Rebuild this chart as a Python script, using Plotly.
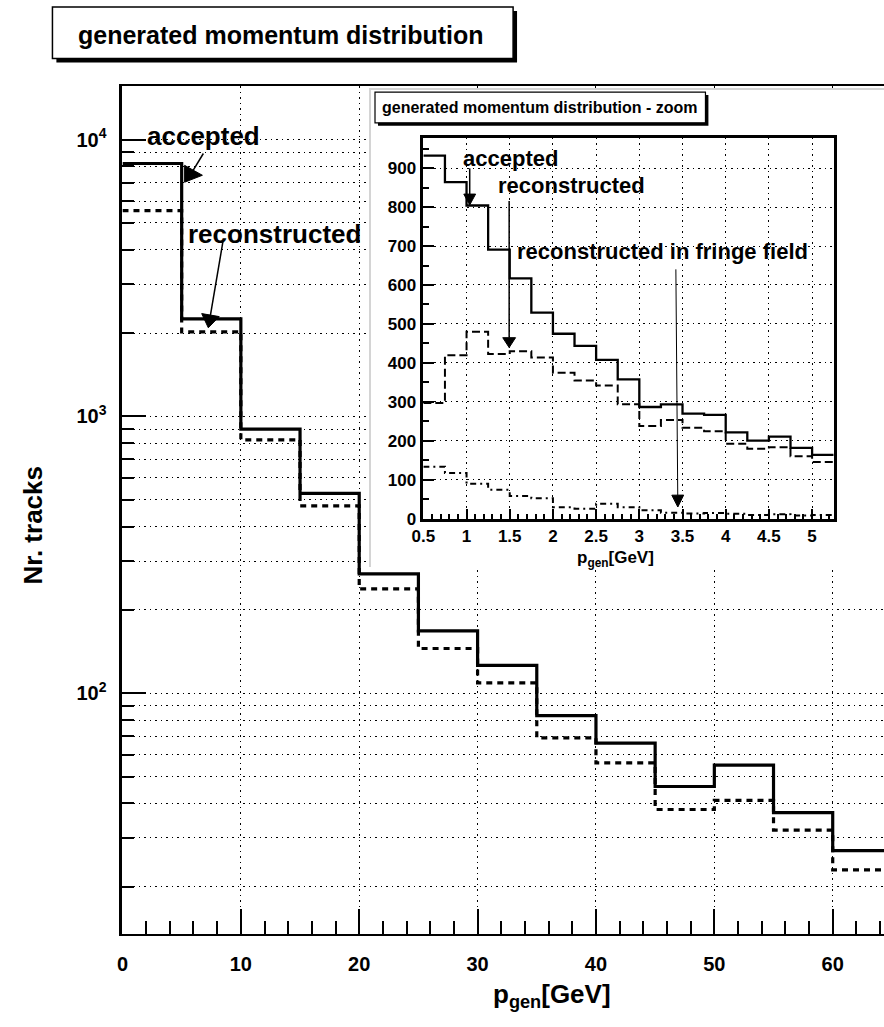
import math
import plotly.graph_objects as go

# ---------------- data ----------------
main_edges = [0, 5, 10, 15, 20, 25, 30, 35, 40, 45, 50, 55, 60, 65]
main_accepted = [8200, 2250, 900, 527, 270, 168, 126, 83, 66, 46, 55, 37, 27]
main_reconstructed = [5540, 2020, 823, 475, 238, 145, 109, 69, 56, 38, 41, 32, 23]

inset_edges = [0.5, 0.75, 1.0, 1.25, 1.5, 1.75, 2.0, 2.25, 2.5, 2.75, 3.0,
               3.25, 3.5, 3.75, 4.0, 4.25, 4.5, 4.75, 5.0, 5.25]
inset_accepted = [932, 864, 804, 691, 617, 529, 475, 444, 408, 358, 287,
                  294, 270, 267, 222, 201, 211, 182, 164]
inset_reconstructed = [297, 420, 480, 423, 430, 414, 375, 355, 342, 294, 238,
                       254, 234, 225, 193, 180, 184, 161, 146]
inset_fringe = [134, 118, 90, 75, 59, 53, 30, 26, 39, 30, 22, 16, 14, 15, 13,
                10, 12, 9, 10]

main_xticks = [0, 10, 20, 30, 40, 50, 60]
main_yticks = [100, 1000, 10000]
main_yticktext = ["10<sup>2</sup>", "10<sup>3</sup>", "10<sup>4</sup>"]
main_yminor = [m * d for d in (10, 100, 1000) for m in range(2, 10)]
inset_xticks = [0.5, 1, 1.5, 2, 2.5, 3, 3.5, 4, 4.5, 5]
inset_xticktext = ["0.5", "1", "1.5", "2", "2.5", "3", "3.5", "4", "4.5", "5"]
inset_xminor = [round(0.5 + 0.1 * i, 2) for i in range(48)]
inset_yticks = [0, 100, 200, 300, 400, 500, 600, 700, 800, 900]
inset_yminor = [50, 150, 250, 350, 450, 550, 650, 750, 850, 950]

# ---------------- layout helpers ----------------
W, H = 884, 1027
FONT = "Liberation Sans, Arial, Helvetica, sans-serif"


def fx(p):
    return p / W


def fy(p):
    return 1 - p / H


def step(edges, vals):
    return list(edges), list(vals) + [vals[-1]]


fig = go.Figure()

x, y = step(main_edges, main_accepted)
fig.add_trace(go.Scatter(x=x, y=y, mode="lines", line_shape="hv",
                         line=dict(color="black", width=3.2),
                         xaxis="x", yaxis="y", showlegend=False))
x, y = step(main_edges, main_reconstructed)
fig.add_trace(go.Scatter(x=x, y=y, mode="lines", line_shape="hv",
                         line=dict(color="black", width=3.2, dash="6px,5px"),
                         xaxis="x", yaxis="y", showlegend=False))

# empty pad subplot (white background covering main plot)
fig.add_trace(go.Scatter(x=[None], y=[None], mode="lines", xaxis="x2",
                         yaxis="y2", showlegend=False, hoverinfo="skip"))

x, y = step(inset_edges, inset_accepted)
fig.add_trace(go.Scatter(x=x, y=y, mode="lines", line_shape="hv",
                         line=dict(color="black", width=2.3),
                         xaxis="x3", yaxis="y3", showlegend=False))
x, y = step(inset_edges, inset_reconstructed)
fig.add_trace(go.Scatter(x=x, y=y, mode="lines", line_shape="hv",
                         line=dict(color="black", width=2, dash="8px,4px"),
                         xaxis="x3", yaxis="y3", showlegend=False))
x, y = step(inset_edges, inset_fringe)
fig.add_trace(go.Scatter(x=x, y=y, mode="lines", line_shape="hv",
                         line=dict(color="black", width=2,
                                   dash="6px,4px,2px,4px"),
                         xaxis="x3", yaxis="y3", showlegend=False))

GRIDDASH = "1.5px,4px"

fig.update_layout(
    width=W, height=H, autosize=False,
    margin=dict(l=0, r=0, t=0, b=0, pad=0),
    paper_bgcolor="white", plot_bgcolor="white",
    font=dict(family=FONT, color="black"),
    xaxis=dict(
        domain=[fx(112), 1], anchor="y", range=[0, (W - 112) / 12.0],
        tickmode="array", tickvals=main_xticks,
        ticks="inside", ticklen=25, tickwidth=2, tickcolor="black",
        minor=dict(dtick=2, tick0=0, ticks="inside", ticklen=13,
                   tickwidth=2, tickcolor="black", showgrid=False),
        showgrid=True, gridcolor="black", gridwidth=1, griddash=GRIDDASH,
        showline=True, linecolor="black", linewidth=2, mirror=True,
        zeroline=False, ticklabelstandoff=11,
        tickfont=dict(size=20, weight="bold", family=FONT),
    ),
    yaxis=dict(
        domain=[fy(943), fy(87)], anchor="x", type="log",
        range=[1.1306, 4.1932],
        tickmode="array", tickvals=main_yticks, ticktext=main_yticktext,
        ticks="inside", ticklen=24, tickwidth=2, tickcolor="black",
        minor=dict(tickmode="array", tickvals=main_yminor, ticks="inside",
                   ticklen=12, tickwidth=2, tickcolor="black",
                   showgrid=True, gridcolor="black", gridwidth=1,
                   griddash=GRIDDASH),
        showgrid=True, gridcolor="black", gridwidth=1, griddash=GRIDDASH,
        showline=True, linecolor="black", linewidth=3, mirror=False,
        zeroline=False, ticklabelstandoff=9,
        tickfont=dict(size=20, weight="bold", family=FONT),
    ),
    xaxis2=dict(
        domain=[fx(364), 1], anchor="y2", range=[0, 1], side="top",
        showgrid=False, zeroline=False, showticklabels=False, ticks="",
        showline=True, linecolor="#d4d4d4", linewidth=2,
    ),
    yaxis2=dict(
        domain=[fy(573), fy(91)], anchor="x2", range=[0, 1],
        showgrid=False, zeroline=False, showticklabels=False, ticks="",
        showline=True, linecolor="#d4d4d4", linewidth=2,
    ),
    xaxis3=dict(
        domain=[fx(417), fx(833)], anchor="y3", range=[0.5, 5.25],
        tickmode="array", tickvals=inset_xticks, ticktext=inset_xticktext,
        ticks="inside", ticklen=10, tickwidth=1.5, tickcolor="black",
        minor=dict(tickmode="array", tickvals=inset_xminor, ticks="inside",
                   ticklen=5, tickwidth=1.5, tickcolor="black",
                   showgrid=False),
        showgrid=True, gridcolor="black", gridwidth=1, griddash=GRIDDASH,
        showline=True, linecolor="black", linewidth=2.5, mirror=True,
        zeroline=False, ticklabelstandoff=0,
        tickfont=dict(size=17, weight="bold", family=FONT),
    ),
    yaxis3=dict(
        domain=[fy(524), fy(139)], anchor="x3", range=[0, 978],
        tickmode="array", tickvals=inset_yticks,
        ticks="inside", ticklen=11, tickwidth=1.5, tickcolor="black",
        minor=dict(tickmode="array", tickvals=inset_yminor, ticks="inside",
                   ticklen=6, tickwidth=1.5, tickcolor="black",
                   showgrid=False),
        showgrid=True, gridcolor="black", gridwidth=1, griddash=GRIDDASH,
        showline=True, linecolor="black", linewidth=2.5, mirror=True,
        zeroline=False, ticklabelstandoff=1,
        tickfont=dict(size=17, weight="bold", family=FONT),
    ),
)

shapes = []


def box(x0, y0, x1, y1, shadow, lw):
    shapes.append(dict(type="rect", xref="paper", yref="paper", layer="above",
                       x0=fx(x0 + shadow), x1=fx(x1 + shadow),
                       y0=fy(y1 + shadow), y1=fy(y0 + shadow),
                       fillcolor="black", line=dict(width=0)))
    shapes.append(dict(type="rect", xref="paper", yref="paper", layer="above",
                       x0=fx(x0), x1=fx(x1), y0=fy(y1), y1=fy(y0),
                       fillcolor="white", line=dict(color="black", width=lw)))


def tri(p1, p2, p3):
    shapes.append(dict(type="path", xref="paper", yref="paper", layer="above",
                       path="M{},{} L{},{} L{},{} Z".format(
                           fx(p1[0]), fy(p1[1]), fx(p2[0]), fy(p2[1]),
                           fx(p3[0]), fy(p3[1])),
                       fillcolor="black", line=dict(color="black", width=1)))


def seg(x0, y0, x1, y1, lw):
    shapes.append(dict(type="line", xref="paper", yref="paper", layer="above",
                       x0=fx(x0), y0=fy(y0), x1=fx(x1), y1=fy(y1),
                       line=dict(color="black", width=lw)))


def arrow(tx, ty, hx, hy, lw, hl, hw):
    dx, dy = hx - tx, hy - ty
    n = math.hypot(dx, dy)
    ux, uy = dx / n, dy / n
    bx, by = hx - ux * hl, hy - uy * hl
    px_, py_ = -uy * hw / 2, ux * hw / 2
    seg(tx, ty, bx, by, lw)
    tri((hx, hy), (bx + px_, by + py_), (bx - px_, by - py_))


box(41, 7, 508, 59, 4, 1.5)
box(368, 93, 703, 124, 3, 1.2)

# main "accepted" arrow (ROOT-style)
seg(194, 155, 183, 173, 1.5)
tri((175, 167), (175, 184), (193, 177))
# main "reconstructed" arrow
arrow(214, 243, 199, 331, 1.5, 13, 18)
# inset arrows
arrow(464, 170, 464, 207, 1.5, 11, 12)
arrow(504, 203, 504, 351, 1.5, 10, 13)
arrow(673, 272, 675, 512, 1, 12, 12)
fig.update_layout(shapes=shapes)

ann = []


def text(t, x, y, size, xanchor="left", angle=0):
    ann.append(dict(text=t, x=fx(x), y=fy(y), xref="paper", yref="paper",
                    showarrow=False, xanchor=xanchor, yanchor="middle",
                    textangle=angle, borderpad=0,
                    font=dict(size=size, family=FONT, color="black",
                              weight="bold")))


text("generated momentum distribution", 273, 35, 25, "center")
text("generated momentum distribution - zoom", 535, 109, 16, "center")
text("Nr. tracks", 21, 530, 26, "center", -90)
text("p<sub>gen</sub>[GeV]", 547, 1005, 26, "center")
text("p<sub>gen</sub>[GeV]", 612, 564, 17, "center")

text("accepted", 136, 137, 26)
text("reconstructed", 177, 236, 26)
text("accepted", 456, 160, 22)
text("reconstructed", 492, 187, 22)
text("reconstructed in fringe field", 511, 254, 22)

fig.update_layout(annotations=ann)

fig.write_html("out.html",
               config={"displayModeBar": False},
               post_script="document.body.style.margin='0';"
                           "document.body.style.overflow='hidden';")
